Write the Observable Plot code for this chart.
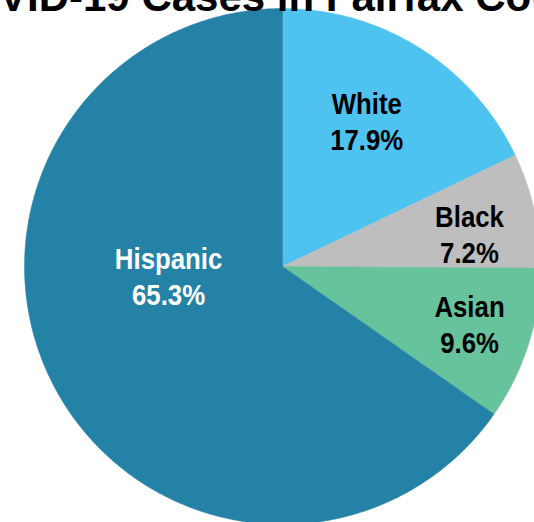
<!DOCTYPE html>
<html><head><meta charset="utf-8">
<script src="https://cdn.jsdelivr.net/npm/d3@7"></script>
<script src="https://cdn.jsdelivr.net/npm/@observablehq/plot@0.6"></script>
<style>
html,body{margin:0;padding:0;background:#fff;overflow:hidden;width:534px;height:522px;}
#title{position:relative;height:12px;z-index:2;}
#title span{position:absolute;left:-64px;top:-24px;font:bold 42px/42px "Liberation Sans",Arial,sans-serif;white-space:nowrap;color:#000;}
#chart{position:relative;z-index:1;}
</style></head><body>
<div id="title"><span>COVID-19 Cases in Fairfax County</span></div>
<div id="chart"></div>
<script>
// Data (clockwise from 12 o'clock)
const categories = ["White", "Black", "Asian", "Hispanic"];
const shares = [17.9, 7.2, 9.6, 65.3];
const colors = ["#4ec3f0", "#bebebe", "#66c39c", "#2482a6"];

// label layout (angle in degrees clockwise from top, radius as fraction)
const labelLayout = {
  White: {angle: 30, r: 0.653, color: "#000"},
  Black: {angle: 80, r: 0.736, color: "#000"},
  Asian: {angle: 107, r: 0.758, color: "#000"},
  Hispanic: {angle: 265.3, r: 0.443, color: "#fff"}
};

const total = d3.sum(shares);
let cum = 0;
const slicePoints = [];
const labelRows = [];
categories.forEach((c, i) => {
  const a0 = cum / total * 2 * Math.PI;
  cum += shares[i];
  const a1 = cum / total * 2 * Math.PI;
  slicePoints.push({category: c, x: 0, y: 0});
  const n = Math.max(2, Math.ceil((a1 - a0) / (Math.PI / 360)));
  for (let k = 0; k <= n; k++) {
    const a = a0 + (a1 - a0) * k / n;
    slicePoints.push({category: c, x: Math.sin(a), y: Math.cos(a)});
  }
  slicePoints.push({category: c, x: 0, y: 0});
  const L = labelLayout[c];
  const la = L.angle * Math.PI / 180;
  labelRows.push({category: c, x: L.r * Math.sin(la), y: L.r * Math.cos(la),
    text: `${c}\n${shares[i].toFixed(1)}%`, color: L.color});
});

const R = 258, cx = 282, cy = 254;
const font = "'Liberation Sans', Arial, sans-serif";
const chart = Plot.plot({
  width: 534,
  height: 510,
  margin: 0,
  style: {background: "transparent", overflow: "visible"},
  x: {domain: [-1, 1], range: [cx - R, cx + R], axis: null},
  y: {domain: [-1, 1], range: [cy + R, cy - R], axis: null},
  color: {domain: categories, range: colors},
  marks: [
    Plot.line(slicePoints, {x: "x", y: "y", z: "category", fill: "category", stroke: "category", strokeWidth: 0.5, curve: "linear"}),
    Plot.text(labelRows.filter(d => d.color === "#000"), {x: "x", y: "y", text: "text", fill: "#000", fontSize: 30, fontWeight: "bold", fontFamily: font, lineHeight: 1.2, lineAnchor: "middle"}),
    Plot.text(labelRows.filter(d => d.color === "#fff"), {x: "x", y: "y", text: "text", fill: "#fff", fontSize: 30, fontWeight: "bold", fontFamily: font, lineHeight: 1.2, lineAnchor: "middle"})
  ]
});
// condense label glyphs horizontally (reference uses a condensed face)
d3.select(chart).selectAll("g[aria-label='text'] text").each(function() {
  const t = this.getAttribute("transform") || "";
  this.setAttribute("transform", t + " scale(0.86,1)");
});
document.getElementById("chart").appendChild(chart);
</script>
</body></html>
